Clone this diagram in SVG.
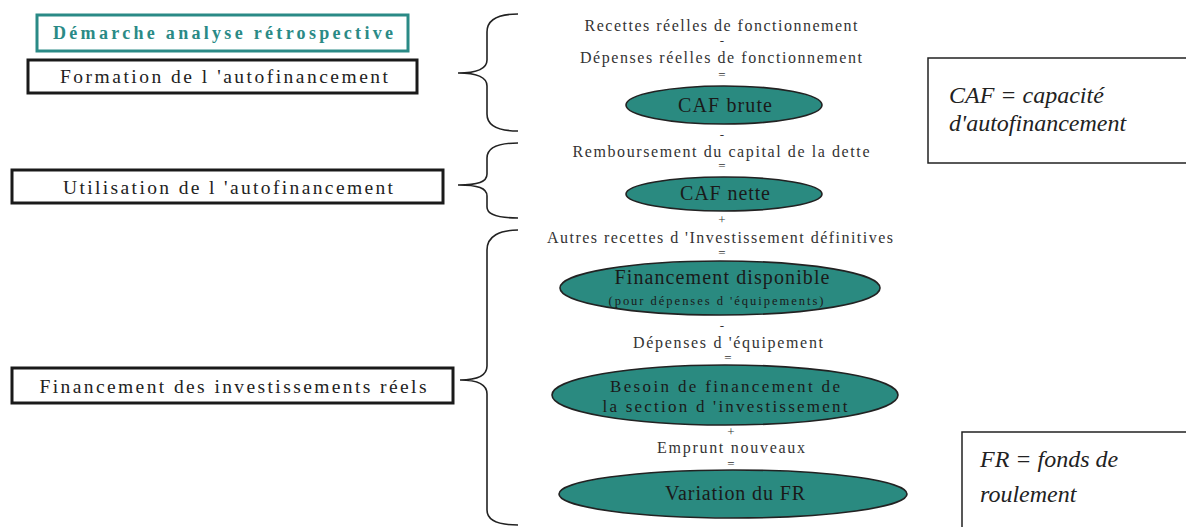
<svg xmlns="http://www.w3.org/2000/svg" width="1186" height="527" viewBox="0 0 1186 527">
<style>
.box{fill:#fff;stroke:#1a1a1a;stroke-width:3}
.lbl{font-family:"Liberation Serif",serif;font-size:19.5px;fill:#222;text-anchor:middle}
.t{font-family:"Liberation Serif",serif;font-size:16px;fill:#333;text-anchor:middle}
.op{font-family:"Liberation Serif",serif;font-size:13px;fill:#333;text-anchor:middle}
.ell{fill:#2a8a80;stroke:#222;stroke-width:1.6}
.et{font-family:"Liberation Serif",serif;font-size:20px;fill:#1a1a1a;text-anchor:middle}
.et2{font-family:"Liberation Serif",serif;font-size:17px;fill:#1a1a1a;text-anchor:middle}
.brace{fill:none;stroke:#222;stroke-width:1.6}
.note{fill:#fff;stroke:#222;stroke-width:1.5}
.nt{font-family:"Liberation Serif",serif;font-style:italic;font-size:24px;fill:#222}
</style>
<g id="title">
<rect x="37" y="15" width="371" height="36" fill="#fff" stroke="#2a8a86" stroke-width="3"/>
<text x="223" y="39" font-family="Liberation Serif, serif" font-weight="bold" font-size="18" fill="#2a8a86" text-anchor="middle" textLength="340" lengthAdjust="spacing">Démarche analyse rétrospective</text>
</g>
<g id="formation">
<rect class="box" x="28" y="60" width="389" height="33"/>
<text class="lbl" x="224" y="83" textLength="328" lengthAdjust="spacing">Formation de l 'autofinancement</text>
</g>
<g id="utilisation">
<rect class="box" x="12" y="170" width="431" height="33"/>
<text class="lbl" x="228" y="194" textLength="330" lengthAdjust="spacing">Utilisation de l 'autofinancement</text>
</g>
<g id="financement">
<rect class="box" x="12" y="368" width="441" height="35"/>
<text class="lbl" x="233" y="393" textLength="387" lengthAdjust="spacing">Financement des investissements réels</text>
</g>
<g id="connectors">
<path class="brace" d="M518,14 C500,14 487,18 487,32 L487,60 C487,69 478,73 458,73 C478,73 487,77 487,86 L487,114 C487,127 500,131 518,131"/>
<path class="brace" d="M518,143 C500,143 487,147 487,158 L487,174 C487,182 478,185 458,185 C478,185 487,188 487,196 L487,207 C487,215 500,218 518,218"/>
<path class="brace" d="M518,230 C500,230 487,236 487,250 L487,366 C487,376 478,380 460,380 C478,380 487,384 487,394 L487,510 C487,521 500,525 518,525"/>
</g>
<g id="flow">
<text class="t" x="721" y="31" textLength="273" lengthAdjust="spacing">Recettes réelles de fonctionnement</text>
<text class="op" x="722" y="45">-</text>
<text class="t" x="721" y="63" textLength="282" lengthAdjust="spacing">Dépenses réelles de fonctionnement</text>
<text class="op" x="722" y="79">=</text>
</g>
<g id="caf-brute">
<ellipse class="ell" cx="724" cy="105" rx="98" ry="19"/>
<text class="et" x="725" y="112" textLength="94" lengthAdjust="spacing">CAF brute</text>
</g>
<g id="flow2">
<text class="op" x="722" y="139">-</text>
<text class="t" x="721" y="157" textLength="297" lengthAdjust="spacing">Remboursement du capital de la dette</text>
<text class="op" x="722" y="170">=</text>
</g>
<g id="caf-nette">
<ellipse class="ell" cx="724" cy="194" rx="98" ry="17"/>
<text class="et" x="725" y="200" textLength="90" lengthAdjust="spacing">CAF nette</text>
</g>
<g id="flow3">
<text class="op" x="722" y="224">+</text>
<text class="t" x="720" y="243" textLength="346" lengthAdjust="spacing">Autres recettes d 'Investissement définitives</text>
<text class="op" x="722" y="257">=</text>
</g>
<g id="financement-disponible">
<ellipse class="ell" cx="720" cy="288" rx="160" ry="27"/>
<text class="et" x="722" y="284" textLength="215" lengthAdjust="spacing">Financement disponible</text>
<text x="716" y="305" font-family="Liberation Serif, serif" font-size="12.5" fill="#1a1a1a" text-anchor="middle" textLength="215" lengthAdjust="spacing">(pour dépenses d 'équipements)</text>
</g>
<g id="flow4">
<text class="op" x="722" y="330">-</text>
<text class="t" x="728" y="348" textLength="190" lengthAdjust="spacing">Dépenses d 'équipement</text>
<text class="op" x="728" y="362">=</text>
</g>
<g id="besoin">
<ellipse class="ell" cx="725" cy="395" rx="173" ry="30"/>
<text class="et2" x="725" y="392" textLength="230" lengthAdjust="spacing">Besoin de financement de</text>
<text class="et2" x="725" y="412" textLength="245" lengthAdjust="spacing">la section d 'investissement</text>
</g>
<g id="flow5">
<text class="op" x="731" y="436">+</text>
<text class="t" x="731" y="453" textLength="148" lengthAdjust="spacing">Emprunt nouveaux</text>
<text class="op" x="731" y="468">=</text>
</g>
<g id="variation">
<ellipse class="ell" cx="733" cy="494" rx="174" ry="24"/>
<text class="et" x="735" y="500" textLength="140" lengthAdjust="spacing">Variation du FR</text>
</g>
<g id="note-caf">
<rect class="note" x="928" y="58" width="280" height="105"/>
<text class="nt" x="949" y="103">CAF = capacité</text>
<text class="nt" x="949" y="131">d'autofinancement</text>
</g>
<g id="note-fr">
<rect class="note" x="962" y="432" width="240" height="120"/>
<text class="nt" x="980" y="467">FR = fonds de</text>
<text class="nt" x="980" y="502">roulement</text>
</g>
</svg>
